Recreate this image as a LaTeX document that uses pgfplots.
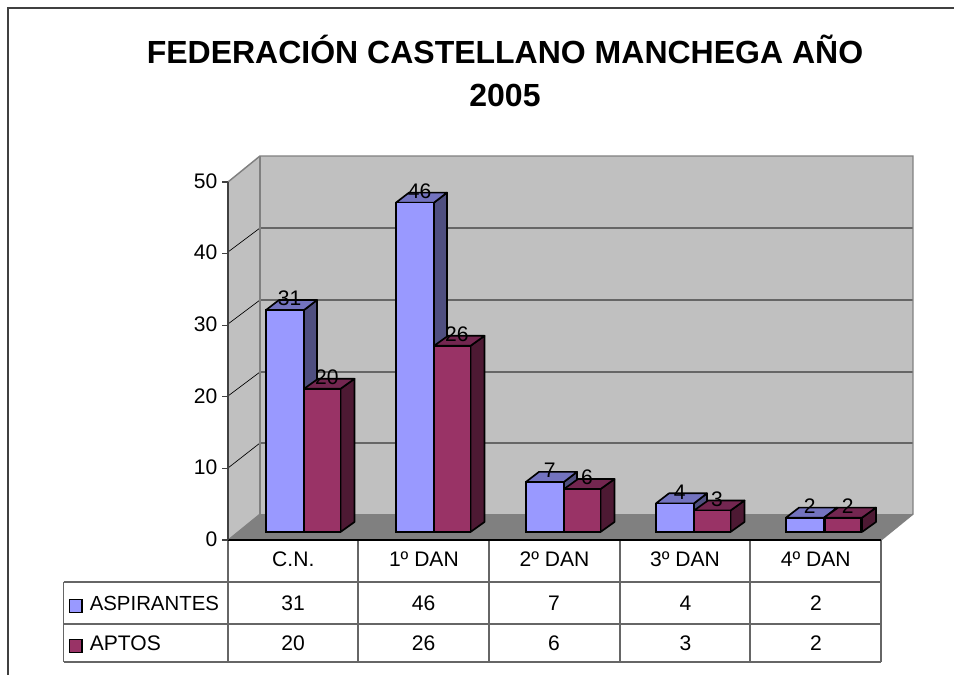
\documentclass[border=0pt]{standalone}
\usepackage{fontspec}
\setmainfont{Liberation Sans}
\usepackage{pgfplots}
\usepackage{pgfplotstable}
\pgfplotsset{compat=1.18}
\definecolor{blueF}{HTML}{9999FF}
\definecolor{blueS}{HTML}{4F4F80}
\definecolor{blueT}{HTML}{7373BF}
\definecolor{redF}{HTML}{993366}
\definecolor{redS}{HTML}{4D1933}
\definecolor{redT}{HTML}{732650}
\definecolor{wallc}{HTML}{C0C0C0}
\definecolor{floorc}{HTML}{808080}
\definecolor{gridc}{HTML}{666666}
\definecolor{framec}{HTML}{404040}
\pgfplotstableread{
x v
285 31
415 46
545 7
675 4
805 2
}\aspirantes
\pgfplotstableread{
x v
322.25 20
452.25 26
582.25 6
712.25 3
843 2
}\aptos
\newcommand{\tabfont}{\fontsize{15.8}{18}\selectfont}
% x0, x0+d, x1, x1+d, v, v+dv, side colour, top colour
\newcommand{\cubefaces}[8]{%
  \addplot[draw=black,line width=1.25pt,line join=round,fill=#7] coordinates {(#3,0)(#4,1.4)(#4,#6)(#3,#5)} --cycle;
  \addplot[draw=black,line width=1.25pt,line join=round,fill=#8] coordinates {(#1,#5)(#3,#5)(#4,#6)(#2,#6)} --cycle;
}
\begin{document}
\begin{tikzpicture}
\path[use as bounding box] (0,0) rectangle (715.5pt,506.25pt);
% ---- frame, walls, table
\begin{axis}[at={(0pt,0pt)},anchor=south west,scale only axis,width=715.5pt,height=506.25pt,
  xmin=0,xmax=954,ymin=0,ymax=675,y dir=reverse,hide axis,clip=false]
\draw[framec,line width=1pt] (8,675)--(8,8)--(954,8);
\node[anchor=base,inner sep=0pt,font=\fontsize{24}{28}\selectfont\bfseries] at (505,63.5) {FEDERACIÓN CASTELLANO MANCHEGA AÑO};
\node[anchor=base,inner sep=0pt,font=\fontsize{24}{28}\selectfont\bfseries] at (505,106) {2005};
\fill[wallc] (260,156) rectangle (913,514);
\fill[wallc] (228,182)--(260,156)--(260,514)--(228,540)--cycle;
\fill[floorc] (228,540)--(260,514)--(913,514)--(881,540)--cycle;
\draw[gridc,line width=1pt] (260,228)--(913,228) (260,300)--(913,300) (260,372)--(913,372) (260,443)--(913,443);
\draw[black,line width=0.5pt] (228,252)--(260,228) (228,324)--(260,300) (228,396)--(260,372) (228,468)--(260,443);
\draw[floorc,line width=1.1pt] (228,182)--(260,156)--(913,156)--(913,514)--(881,540);
\draw[floorc,line width=1.1pt] (260,156)--(260,514);
\draw[floorc,line width=0.8pt] (260,514)--(228,540);
% table
\draw[gridc,line width=1pt] (63.5,582)--(881,582) (63.5,624)--(881,624) (63.5,662)--(881,662) (63.5,582)--(63.5,662);
\draw[gridc,line width=0.9pt] (228,540)--(228,662) (358,540)--(358,662) (489,540)--(489,662) (620,540)--(620,662) (750,540)--(750,662) (881,540)--(881,662);
\fill[blueF,draw=black,line width=1.1pt] (69.5,599.5) rectangle (82,612.5);
\fill[redF,draw=black,line width=1.1pt] (69.5,639.5) rectangle (82,652.5);
\node[anchor=base west,font=\fontsize{15.3}{18}\selectfont,inner sep=0pt] at (89.5,610.5) {ASPIRANTES};
\node[anchor=base west,font=\tabfont,inner sep=0pt] at (89.5,650.5) {APTOS};
\foreach \x/\a/\b in {293/31/20,423.5/46/26,554/7/6,685.5/4/3,816/2/2}{
  \edef\tmp{\noexpand\node[anchor=center,font=\noexpand\tabfont] at (axis cs:\x,603) {\a};
            \noexpand\node[anchor=center,font=\noexpand\tabfont] at (axis cs:\x,643) {\b};}
  \tmp
}
\end{axis}
% ---- value axis on the front plane, categories below
\begin{axis}[at={(171pt,101.25pt)},anchor=south west,scale only axis,width=489.75pt,height=268.5pt,
  xmin=0,xmax=5,ymin=0,ymax=50,
  axis y line=left,axis x line=bottom,
  y axis line style={-,draw=framec,line width=1pt},
  x axis line style={-,draw=black,line width=1.1pt},
  ytick={0,10,20,30,40,50},
  xtick={0.5,1.5,2.5,3.5,4.5},
  xticklabels={C.N.,1º DAN,2º DAN,3º DAN,4º DAN},
  tick align=outside,
  major tick length=4.5pt,
  xtick style={draw=none},
  ytick style={draw=framec,line width=0.8pt},
  /pgf/number format/assume math mode=true,
  tick label style={font=\tabfont,text=black},
  yticklabel style={yshift=0.75pt},
  xticklabel style={anchor=base,yshift=-15.75pt},
]
\end{axis}
% ---- bars
\begin{axis}[at={(0pt,0pt)},anchor=south west,scale only axis,width=715.5pt,height=506.25pt,
  xmin=0,xmax=954,ymin=-19.972,ymax=74.302,hide axis,clip=false]
\cubefaces{266}{279}{304}{317}{31}{32.4}{blueS}{blueT}
\cubefaces{396}{409}{434}{447}{46}{47.4}{blueS}{blueT}
\cubefaces{526}{539}{564}{577}{7}{8.4}{blueS}{blueT}
\cubefaces{656}{669}{694}{707}{4}{5.4}{blueS}{blueT}
\cubefaces{786}{799}{824}{837}{2}{3.4}{blueS}{blueT}
\addplot[ybar,bar width=38,bar shift=0pt,fill=blueF,draw=black,line width=1.25pt] table[x=x,y=v] {\aspirantes};
\cubefaces{304}{318}{340.5}{354.5}{20}{21.4}{redS}{redT}
\cubefaces{434}{448}{470.5}{484.5}{26}{27.4}{redS}{redT}
\cubefaces{564}{578}{600.5}{614.5}{6}{7.4}{redS}{redT}
\cubefaces{694}{708}{730.5}{744.5}{3}{4.4}{redS}{redT}
\cubefaces{824}{838}{862}{876}{2}{3.4}{redS}{redT}
\addplot[ybar,bar width=36.5,bar shift=0pt,fill=redF,draw=black,line width=1.25pt] table[x=x,y=v] {\aptos};
\addplot[draw=none,mark=none,nodes near coords,
  every node near coord/.append style={font=\tabfont,text=black,anchor=center,xshift=3.5pt,yshift=8.5pt},
  /pgf/number format/assume math mode=true] table[x=x,y=v] {\aspirantes};
\addplot[draw=none,mark=none,nodes near coords,
  every node near coord/.append style={font=\tabfont,text=black,anchor=center,xshift=3.5pt,yshift=8.5pt},
  /pgf/number format/assume math mode=true] table[x=x,y=v] {\aptos};
\end{axis}
\end{tikzpicture}
\end{document}
